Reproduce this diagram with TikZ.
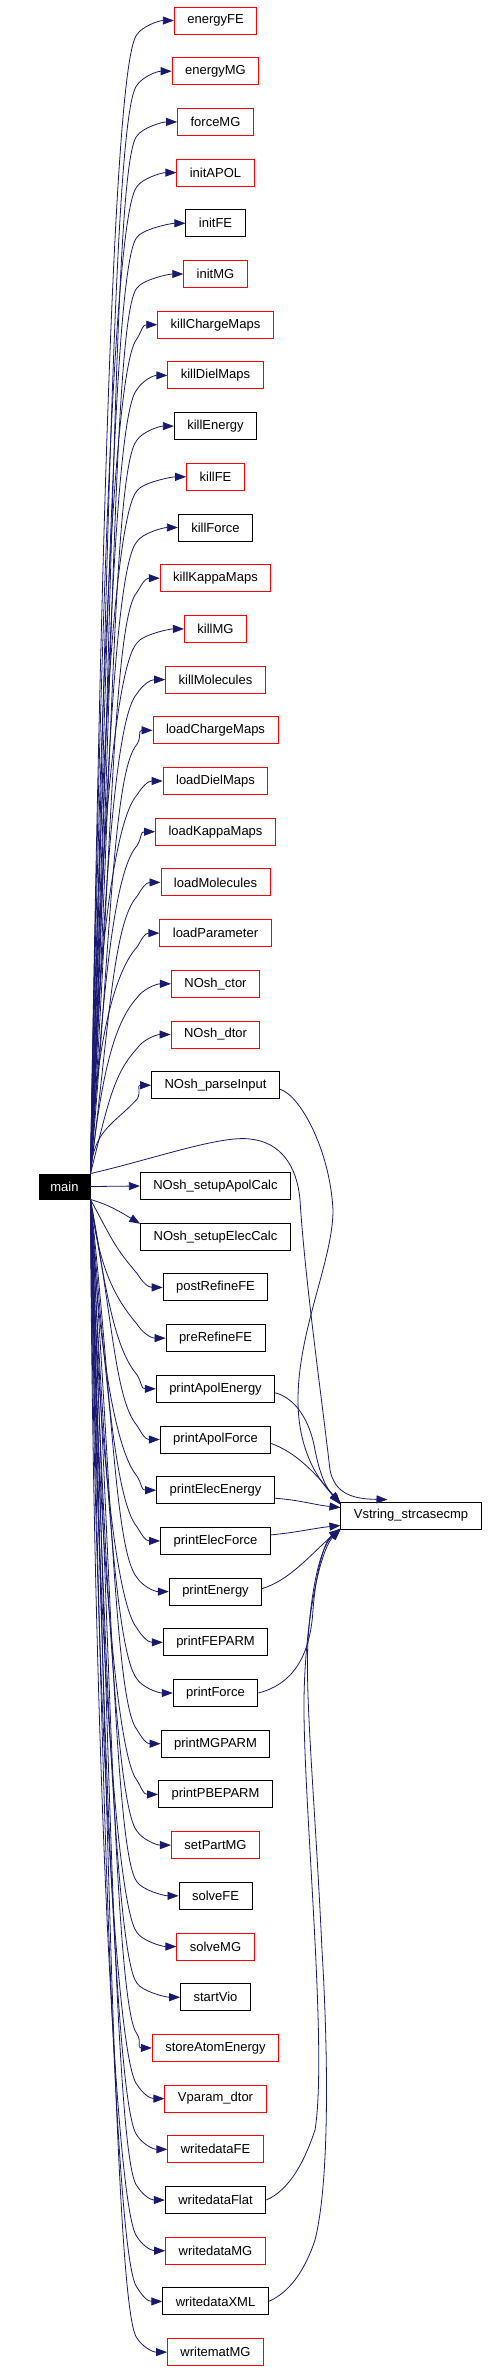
\documentclass[tikz,border=0pt]{standalone}
\usepackage{fontspec}
\setmainfont{Liberation Sans}
\usetikzlibrary{arrows.meta,calc}
\definecolor{edgec}{HTML}{191970}
\definecolor{redc}{HTML}{FF0000}
\begin{document}
\begin{tikzpicture}[x=1pt,y=-1pt,
  fn/.style={draw=black, line width=0.9pt, minimum height=27pt, inner xsep=13pt, inner ysep=0pt,
    font=\fontsize{13}{15}\selectfont, anchor=center},
  edge/.style={draw=edgec, line width=0.8pt, -{Triangle[length=11pt,width=8pt]}, fill=none}]
\useasboundingbox (0,0) rectangle (490,2372);
\node[fn, fill=black, text=white, minimum width=51pt, minimum height=25pt, inner xsep=0pt] (main) at (64.5,1186.5) {main};
\node[fn] (V) at (411,1515.5) {Vstring\_strcasecmp};
\foreach \nm/\tx/\st [count=\i] in {
  energyFE/energyFE/redc, energyMG/energyMG/redc, forceMG/forceMG/redc, initAPOL/initAPOL/redc,
  initFE/initFE/black, initMG/initMG/redc, killChargeMaps/killChargeMaps/redc,
  killDielMaps/killDielMaps/redc, killEnergy/killEnergy/black, killFE/killFE/redc,
  killForce/killForce/black, killKappaMaps/killKappaMaps/redc, killMG/killMG/redc,
  killMolecules/killMolecules/redc, loadChargeMaps/loadChargeMaps/redc,
  loadDielMaps/loadDielMaps/redc, loadKappaMaps/loadKappaMaps/redc,
  loadMolecules/loadMolecules/redc, loadParameter/loadParameter/redc,
  NOshctor/NOsh\_ctor/redc, NOshdtor/NOsh\_dtor/redc, NOshparseInput/NOsh\_parseInput/black,
  NOshsetupApolCalc/NOsh\_setupApolCalc/black, NOshsetupElecCalc/NOsh\_setupElecCalc/black,
  postRefineFE/postRefineFE/black, preRefineFE/preRefineFE/black,
  printApolEnergy/printApolEnergy/black, printApolForce/printApolForce/black,
  printElecEnergy/printElecEnergy/black, printElecForce/printElecForce/black,
  printEnergy/printEnergy/black, printFEPARM/printFEPARM/black, printForce/printForce/black,
  printMGPARM/printMGPARM/black, printPBEPARM/printPBEPARM/black, setPartMG/setPartMG/redc,
  solveFE/solveFE/black, solveMG/solveMG/redc, startVio/startVio/black,
  storeAtomEnergy/storeAtomEnergy/redc, Vparamdtor/Vparam\_dtor/redc,
  writedataFE/writedataFE/redc, writedataFlat/writedataFlat/black,
  writedataMG/writedataMG/redc, writedataXML/writedataXML/black, writematMG/writematMG/redc}{
  \ifnum\i<23
    \pgfmathsetmacro{\yy}{20.5+(\i-1)*50.7}
  \else
    \pgfmathsetmacro{\yy}{1186+(\i-23)*50.7}
  \fi
  \node[fn, draw=\st] (\nm) at (215.5,\yy) {\tx};
  \pgfmathsetmacro{\px}{93+mod(\i*7,22)}
  \ifnum\i<23
    \pgfmathsetmacro{\D}{1174-\yy}
    \draw[edge] (main.north east) .. controls (\px,{1174-0.5*\D}) and (113,{\yy+40}) .. (137,{\yy+14})
      .. controls (142,{\yy+6}) and ($(\nm.west)+(-15,0)$) .. (\nm.west);
  \else\ifnum\i>24
    \pgfmathsetmacro{\D}{\yy-1199}
    \draw[edge] (main.south east) .. controls (\px,{1199+0.5*\D}) and (115,{\yy-40}) .. (137,{\yy-14})
      .. controls (142,{\yy-6}) and ($(\nm.west)+(-15,0)$) .. (\nm.west);
  \fi\fi
}
\draw[edge] (main.east) -- (NOshsetupApolCalc.west);
\draw[edge] (main.south east) .. controls (110,1205) and (122,1213) .. ($(NOshsetupElecCalc.north west)+(0,1)$);
% edges to Vstring_strcasecmp
\draw[edge] (main.north east) .. controls (150,1160) and (220,1135) .. (250,1139)
  .. controls (280,1142) and (297,1165) .. (300,1200)
  .. controls (305,1280) and (322,1400) .. (330,1470)
  .. controls (335,1495) and (355,1499) .. ($(V.north west)+(47,-2)$);
\draw[edge] ($(NOshparseInput.east)+(0,4)$) .. controls (300,1095) and (330,1150) .. (333,1210)
  .. controls (333,1260) and (298,1330) .. (298,1400)
  .. controls (298,1450) and (318,1480) .. ($(V.north west)+(0,1)$);
\draw[edge] ($(printApolEnergy.east)+(0,4)$) .. controls (295,1398) and (310,1420) .. (315,1450)
  .. controls (320,1475) and (326,1488) .. ($(V.north west)+(0,2)$);
\draw[edge] ($(printApolForce.east)+(0,4)$) .. controls (295,1452) and (315,1472) .. ($(V.north west)+(0,3)$);
\draw[edge] ($(printElecEnergy.east)+(0,8)$) .. controls (300,1500) and (315,1505) .. ($(V.west)+(0,-8)$);
\draw[edge] ($(printElecForce.east)+(0,-6)$) .. controls (300,1532) and (315,1528) .. ($(V.west)+(0,10)$);
\draw[edge] ($(printEnergy.east)+(0,-3)$) .. controls (290,1580) and (310,1555) .. ($(V.south west)+(0,-1)$);
\draw[edge] (printForce.east) .. controls (290,1685) and (310,1660) .. (313,1610)
  .. controls (316,1570) and (325,1540) .. (V.south west);
\draw[edge] (writedataFlat.east) .. controls (290,2190) and (305,2160) .. (315,2130)
  .. controls (328,2050) and (303,1800) .. (304,1700)
  .. controls (305,1620) and (320,1550) .. (V.south west);
\draw[edge] (writedataXML.east) .. controls (290,2292) and (305,2270) .. (315,2240)
  .. controls (330,2180) and (328,2050) .. (322,1950)
  .. controls (315,1800) and (305,1700) .. (308,1640)
  .. controls (312,1580) and (322,1545) .. (V.south west);
\end{tikzpicture}
\end{document}
